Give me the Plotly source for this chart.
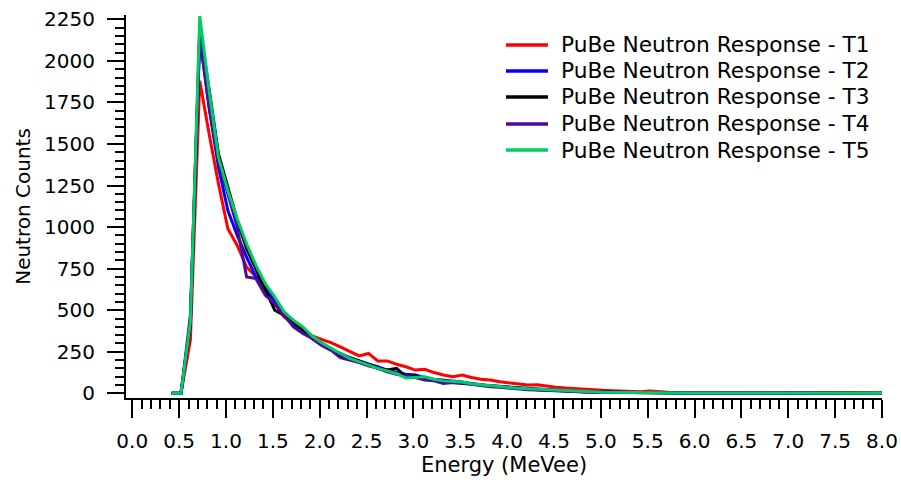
import plotly.graph_objects as go

# Energy bin positions (MeVee)
energy = [0.42, 0.52, 0.62, 0.72, 0.82, 0.92, 1.02, 1.12, 1.22, 1.32,
          1.42, 1.52, 1.62, 1.72, 1.82, 1.92, 2.02, 2.12, 2.22, 2.32,
          2.42, 2.52, 2.62, 2.72, 2.82, 2.92, 3.02, 3.12, 3.22, 3.32,
          3.42, 3.52, 3.62, 3.72, 3.82, 3.92, 4.02, 4.12, 4.22, 4.32,
          4.42, 4.52, 4.62, 4.72, 4.82, 4.92, 5.02, 5.12, 5.22, 5.32,
          5.42, 5.52, 5.62, 5.72, 5.82, 5.92, 6.02, 6.12, 6.22, 6.32,
          6.42, 6.52, 6.62, 6.72, 6.82, 6.92, 7.02, 7.12, 7.22, 7.32,
          7.42, 7.52, 7.62, 7.72, 7.82, 7.92, 8.02]

t1 = [0, 0, 320, 1880, 1560, 1260, 990, 890, 760, 700,
      620, 540, 460, 420, 385, 345, 325, 305, 280, 250,
      225, 240, 195, 195, 175, 160, 140, 145, 125, 110,
      100, 110, 95, 85, 80, 70, 62, 55, 50, 52,
      42, 36, 32, 28, 22, 20, 18, 16, 14, 12,
      10, 14, 8, 6, 5, 5, 4, 4, 3, 3,
      3, 3, 2, 2, 2, 2, 2, 2, 2, 2,
      2, 2, 2, 2, 2, 2, 2]

t2 = [0, 0, 420, 2150, 1720, 1360, 1100, 950, 820, 700,
      640, 560, 480, 420, 380, 330, 290, 260, 240, 215,
      195, 175, 160, 140, 125, 115, 110, 95, 85, 80,
      72, 68, 60, 52, 45, 42, 38, 33, 28, 24,
      20, 17, 14, 12, 10, 9, 7, 6, 5, 4,
      4, 3, 3, 3, 2, 2, 2, 2, 2, 2,
      2, 2, 2, 2, 2, 2, 1, 1, 1, 1,
      1, 1, 1, 1, 1, 1, 1]

t3 = [0, 0, 420, 2200, 1830, 1440, 1240, 1040, 870, 750,
      630, 500, 470, 430, 380, 330, 300, 270, 230, 215,
      195, 175, 150, 140, 150, 100, 105, 90, 80, 75,
      65, 60, 55, 48, 42, 38, 34, 30, 26, 22,
      19, 16, 13, 11, 10, 8, 7, 6, 5, 4,
      4, 3, 3, 3, 2, 2, 2, 2, 2, 2,
      2, 2, 2, 1, 1, 1, 1, 1, 1, 1,
      1, 1, 1, 1, 1, 1, 1]

t4 = [0, 0, 470, 2150, 1720, 1390, 1200, 1000, 700, 690,
      590, 540, 470, 400, 360, 330, 290, 260, 215, 200,
      185, 165, 150, 130, 115, 105, 95, 80, 75, 60,
      65, 62, 55, 45, 40, 36, 30, 25, 22, 20,
      17, 14, 12, 10, 8, 7, 6, 5, 4, 4,
      3, 3, 3, 2, 2, 2, 2, 2, 2, 1,
      1, 1, 1, 1, 1, 1, 1, 1, 1, 1,
      1, 1, 1, 1, 1, 1, 1]

t5 = [0, 0, 430, 2270, 1820, 1420, 1220, 1050, 900, 770,
      660, 580, 490, 440, 400, 345, 305, 270, 240, 210,
      190, 168, 150, 135, 118, 92, 98, 100, 85, 75,
      72, 68, 58, 52, 44, 40, 33, 30, 27, 24,
      20, 17, 14, 12, 10, 9, 7, 6, 5, 4,
      4, 3, 3, 2, 2, 2, 2, 2, 1, 1,
      1, 1, 1, 1, 1, 1, 1, 1, 1, 1,
      1, 1, 1, 1, 1, 1, 1]

series_names = ["PuBe Neutron Response - T1", "PuBe Neutron Response - T2",
                "PuBe Neutron Response - T3", "PuBe Neutron Response - T4",
                "PuBe Neutron Response - T5"]
series_values = [t1, t2, t3, t4, t5]
series_colors = ["#ff0000", "#0000ff", "#000000", "#4b0c9c", "#00cc66"]

y_ticks = [0, 250, 500, 750, 1000, 1250, 1500, 1750, 2000, 2250]
x_ticks = [0.0, 0.5, 1.0, 1.5, 2.0, 2.5, 3.0, 3.5, 4.0, 4.5, 5.0, 5.5, 6.0, 6.5, 7.0, 7.5, 8.0]

FONT = "DejaVu Sans, Liberation Sans, Arial, sans-serif"

W, H = 901, 480
ML, MR, MT, MB = 126, 19, 15, 82
PW, PH = W - ML - MR, H - MT - MB

fig = go.Figure()
for name, vals, color in zip(series_names, series_values, series_colors):
    fig.add_trace(go.Scatter(x=energy, y=vals, mode="lines", name=name,
                             line=dict(color=color, width=3), showlegend=False))

# hand-built legend (Igor-style spacing)
leg_line_x0, leg_line_x1, leg_text_x = 506, 548, 559
leg_rows = [45, 71, 97, 124, 150]
for name, color, ry in zip(series_names, series_colors, leg_rows):
    yp = (H - MB - ry) / PH
    fig.add_shape(type="line", xref="paper", yref="paper",
                  x0=(leg_line_x0 - ML) / PW, x1=(leg_line_x1 - ML) / PW,
                  y0=yp, y1=yp, line=dict(color=color, width=3.5))
    fig.add_annotation(xref="paper", yref="paper", x=(leg_text_x - ML) / PW, y=yp,
                       xanchor="left", yanchor="middle", text=name, showarrow=False,
                       font=dict(family=FONT, size=21.7, color="black"))

fig.update_layout(
    width=W, height=H,
    margin=dict(l=ML, r=MR, t=MT, b=MB, autoexpand=False),
    paper_bgcolor="white", plot_bgcolor="white",
    font=dict(family=FONT, size=20, color="black"),
    showlegend=False,
)

fig.update_xaxes(
    range=[-0.067, 8.0], showgrid=False, zeroline=False, automargin=False,
    showline=True, linecolor="black", linewidth=2,
    tickmode="array", tickvals=x_ticks, ticktext=[f"{v:.1f}" for v in x_ticks],
    ticks="outside", ticklen=18, tickwidth=2, tickcolor="black",
    ticklabelstandoff=6, ticklabeloverflow="allow",
    minor=dict(dtick=0.1, tick0=0, ticks="outside", ticklen=9, tickwidth=2, tickcolor="black"),
    title=dict(text="Energy (MeVee)", standoff=2, font=dict(size=21)),
    tickfont=dict(size=20),
)
fig.update_yaxes(
    range=[-28, 2276], showgrid=False, zeroline=False, automargin=False,
    showline=True, linecolor="black", linewidth=2,
    tickmode="array", tickvals=y_ticks,
    ticks="outside", ticklen=17, tickwidth=2, tickcolor="black",
    ticklabelstandoff=8, ticklabeloverflow="allow",
    minor=dict(dtick=50, tick0=0, ticks="outside", ticklen=9, tickwidth=2, tickcolor="black"),
    title=dict(text="Neutron Counts", standoff=8, font=dict(size=20)),
    tickfont=dict(size=20),
)

fig.write_html("out.html",
               config={"displayModeBar": False},
               post_script="document.body.style.margin='0';document.body.style.overflow='hidden';")
